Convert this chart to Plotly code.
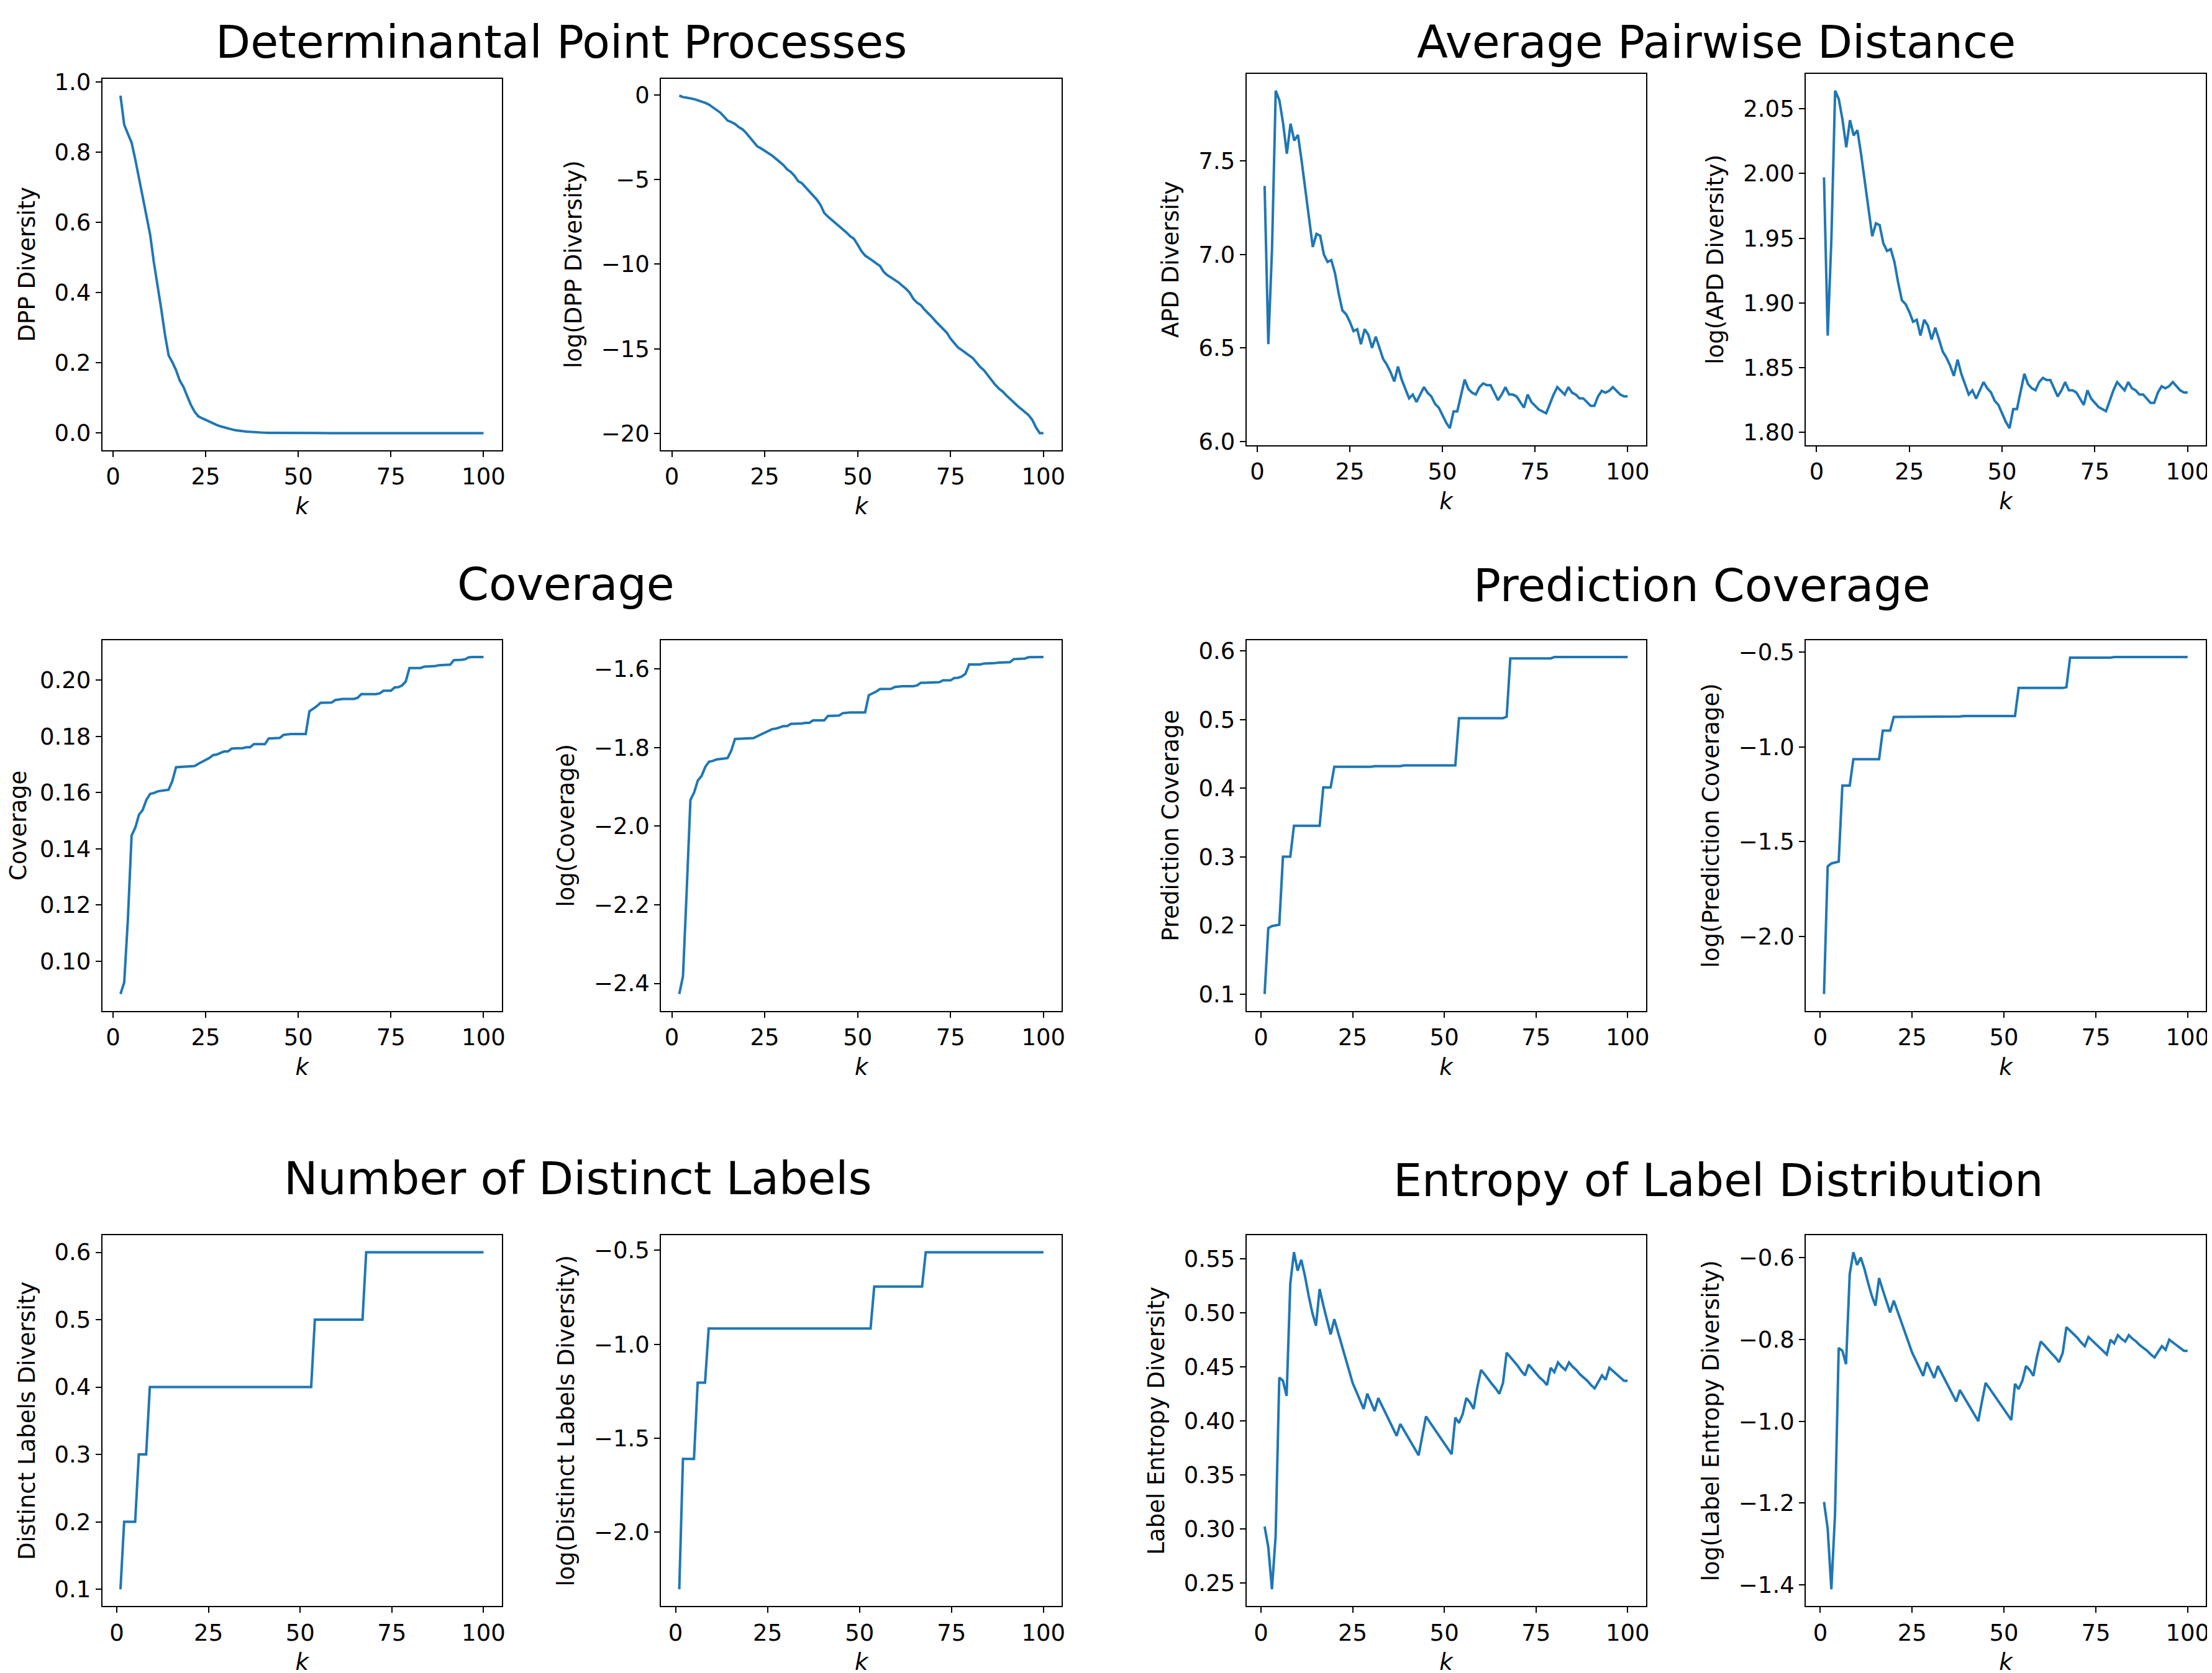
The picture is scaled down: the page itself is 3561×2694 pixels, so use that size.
import numpy as np
import plotly.graph_objects as go

# k values
k_from2 = list(range(2, 101))
k_from1 = list(range(1, 101))

# log(DPP diversity), k = 2..100
log_dpp = [
    -0.04, -0.13, -0.16, -0.19, -0.25, -0.32, -0.39, -0.47, -0.57, -0.72,
    -0.86, -1.04, -1.27, -1.51, -1.60, -1.72, -1.90, -2.03, -2.25, -2.52,
    -2.80, -3.04, -3.16, -3.29, -3.43, -3.59, -3.77, -3.95, -4.14, -4.39,
    -4.55, -4.78, -5.10, -5.22, -5.47, -5.72, -5.98, -6.18, -6.50, -6.97,
    -7.19, -7.38, -7.57, -7.75, -7.91, -8.13, -8.35, -8.50, -8.85, -9.22,
    -9.49, -9.62, -9.79, -9.95, -10.10, -10.45, -10.65, -10.79, -10.92, -11.08,
    -11.27, -11.45, -11.69, -12.05, -12.28, -12.42, -12.69, -12.90, -13.13, -13.38,
    -13.60, -13.83, -14.05, -14.40, -14.65, -14.92, -15.07, -15.25, -15.39, -15.55,
    -15.80, -16.08, -16.27, -16.55, -16.87, -17.12, -17.35, -17.52, -17.75, -17.98,
    -18.16, -18.37, -18.55, -18.72, -18.92, -19.20, -19.65, -19.98, -19.98,
]

# APD diversity, k = 2..100
apd = [
    7.367, 6.52, 7.03, 7.877, 7.825, 7.70, 7.54, 7.70, 7.61, 7.64,
    7.50, 7.35, 7.19, 7.04, 7.11, 7.10, 7.00, 6.96, 6.97, 6.90,
    6.79, 6.70, 6.68, 6.64, 6.59, 6.60, 6.52, 6.60, 6.57, 6.50,
    6.56, 6.50, 6.44, 6.41, 6.37, 6.32, 6.40, 6.33, 6.28, 6.23,
    6.25, 6.21, 6.25, 6.29, 6.26, 6.24, 6.20, 6.18, 6.14, 6.10,
    6.07, 6.16, 6.16, 6.24, 6.33, 6.28, 6.26, 6.25, 6.29, 6.31,
    6.30, 6.30, 6.26, 6.22, 6.25, 6.29, 6.25, 6.25, 6.24, 6.21,
    6.18, 6.25, 6.21, 6.19, 6.17, 6.16, 6.15, 6.20, 6.25, 6.29,
    6.27, 6.25, 6.29, 6.26, 6.25, 6.23, 6.23, 6.21, 6.19, 6.19,
    6.24, 6.27, 6.26, 6.27, 6.29, 6.27, 6.25, 6.24, 6.24,
]

# Coverage, k = 2..100
coverage = [
    0.0883, 0.0924, 0.1149, 0.1447, 0.1475, 0.1521, 0.1538, 0.1574, 0.1595, 0.1598,
    0.1604, 0.1607, 0.1608, 0.1610, 0.1641, 0.1690, 0.1691, 0.1692, 0.1693, 0.1694,
    0.1694, 0.1702, 0.1709, 0.1718, 0.1723, 0.1733, 0.1735, 0.1741, 0.1746, 0.1746,
    0.1756, 0.1757, 0.1757, 0.1758, 0.1761, 0.1761, 0.1772, 0.1772, 0.1772, 0.1772,
    0.1792, 0.1793, 0.1794, 0.1794, 0.1805, 0.1807, 0.1808, 0.1808, 0.1808, 0.1808,
    0.1808, 0.1889, 0.1897, 0.1907, 0.1919, 0.1920, 0.1920, 0.1920, 0.1929, 0.1932,
    0.1933, 0.1933, 0.1933, 0.1933, 0.1937, 0.1950, 0.1950, 0.1950, 0.1950, 0.1950,
    0.1953, 0.1962, 0.1962, 0.1962, 0.1974, 0.1975, 0.1981, 0.1995, 0.2043, 0.2043,
    0.2043, 0.2043, 0.2048, 0.2048, 0.2048, 0.2050, 0.2053, 0.2053, 0.2053, 0.2055,
    0.2071, 0.2071, 0.2072, 0.2074, 0.2081, 0.2082, 0.2082, 0.2082, 0.2082,
]

# Prediction coverage, k = 1..100
pred_coverage = [
    0.100, 0.196, 0.199, 0.200, 0.201, 0.300, 0.300, 0.300, 0.345, 0.345,
    0.345, 0.345, 0.345, 0.345, 0.345, 0.345, 0.401, 0.401, 0.401, 0.431,
    0.431, 0.431, 0.431, 0.431, 0.431, 0.431, 0.431, 0.431, 0.431, 0.431,
    0.432, 0.432, 0.432, 0.432, 0.432, 0.432, 0.432, 0.432, 0.433, 0.433,
    0.433, 0.433, 0.433, 0.433, 0.433, 0.433, 0.433, 0.433, 0.433, 0.433,
    0.433, 0.433, 0.433, 0.502, 0.502, 0.502, 0.502, 0.502, 0.502, 0.502,
    0.502, 0.502, 0.502, 0.502, 0.502, 0.502, 0.504, 0.589, 0.589, 0.589,
    0.589, 0.589, 0.589, 0.589, 0.589, 0.589, 0.589, 0.589, 0.589, 0.591,
    0.591, 0.591, 0.591, 0.591, 0.591, 0.591, 0.591, 0.591, 0.591, 0.591,
    0.591, 0.591, 0.591, 0.591, 0.591, 0.591, 0.591, 0.591, 0.591, 0.591,
]

# Distinct labels diversity, k = 1..100
distinct_labels = [
    0.1, 0.2, 0.2, 0.2, 0.2, 0.3, 0.3, 0.3, 0.4, 0.4,
    0.4, 0.4, 0.4, 0.4, 0.4, 0.4, 0.4, 0.4, 0.4, 0.4,
    0.4, 0.4, 0.4, 0.4, 0.4, 0.4, 0.4, 0.4, 0.4, 0.4,
    0.4, 0.4, 0.4, 0.4, 0.4, 0.4, 0.4, 0.4, 0.4, 0.4,
    0.4, 0.4, 0.4, 0.4, 0.4, 0.4, 0.4, 0.4, 0.4, 0.4,
    0.4, 0.4, 0.4, 0.5, 0.5, 0.5, 0.5, 0.5, 0.5, 0.5,
    0.5, 0.5, 0.5, 0.5, 0.5, 0.5, 0.5, 0.6, 0.6, 0.6,
    0.6, 0.6, 0.6, 0.6, 0.6, 0.6, 0.6, 0.6, 0.6, 0.6,
    0.6, 0.6, 0.6, 0.6, 0.6, 0.6, 0.6, 0.6, 0.6, 0.6,
    0.6, 0.6, 0.6, 0.6, 0.6, 0.6, 0.6, 0.6, 0.6, 0.6,
]

# Label entropy diversity, k = 1..100
label_entropy = [
    0.302, 0.283, 0.244, 0.293, 0.440, 0.437, 0.423, 0.527, 0.556, 0.539,
    0.549, 0.534, 0.516, 0.500, 0.488, 0.522, 0.507, 0.494, 0.480, 0.494,
    0.482, 0.470, 0.458, 0.446, 0.435, 0.427, 0.419, 0.411, 0.425, 0.417,
    0.409, 0.421, 0.414, 0.407, 0.400, 0.393, 0.386, 0.397, 0.391, 0.385,
    0.379, 0.374, 0.368, 0.386, 0.404, 0.399, 0.394, 0.389, 0.384, 0.379,
    0.374, 0.369, 0.403, 0.398, 0.406, 0.421, 0.417, 0.411, 0.431, 0.447,
    0.443, 0.438, 0.434, 0.430, 0.425, 0.435, 0.463, 0.459, 0.455, 0.451,
    0.446, 0.442, 0.452, 0.448, 0.444, 0.440, 0.437, 0.433, 0.449, 0.445,
    0.454, 0.450, 0.447, 0.454, 0.450, 0.447, 0.443, 0.440, 0.437, 0.433,
    0.430, 0.436, 0.442, 0.438, 0.449, 0.446, 0.443, 0.440, 0.437, 0.437,
]

titles = [
    'Determinantal Point Processes', 'Average Pairwise Distance',
    'Coverage', 'Prediction Coverage',
    'Number of Distinct Labels', 'Entropy of Label Distribution',
]

x_ticks = [0, 25, 50, 75, 100]

def fmt(vals, nd):
    return [f'{v:.{nd}f}'.replace('-', '\u2212') for v in vals]

# (x, y, y label, y tick values, decimals)
panels = [
    (k_from2, np.exp(log_dpp), 'DPP Diversity', [0.0, 0.2, 0.4, 0.6, 0.8, 1.0], 1),
    (k_from2, log_dpp, 'log(DPP Diversity)', [0, -5, -10, -15, -20], 0),
    (k_from2, apd, 'APD Diversity', [6.0, 6.5, 7.0, 7.5], 1),
    (k_from2, np.log(apd), 'log(APD Diversity)', [1.80, 1.85, 1.90, 1.95, 2.00, 2.05], 2),
    (k_from2, coverage, 'Coverage', [0.10, 0.12, 0.14, 0.16, 0.18, 0.20], 2),
    (k_from2, np.log(coverage), 'log(Coverage)', [-2.4, -2.2, -2.0, -1.8, -1.6], 1),
    (k_from1, pred_coverage, 'Prediction Coverage', [0.1, 0.2, 0.3, 0.4, 0.5, 0.6], 1),
    (k_from1, np.log(pred_coverage), 'log(Prediction Coverage)', [-2.0, -1.5, -1.0, -0.5], 1),
    (k_from1, distinct_labels, 'Distinct Labels Diversity', [0.1, 0.2, 0.3, 0.4, 0.5, 0.6], 1),
    (k_from1, np.log(distinct_labels), 'log(Distinct Labels Diversity)', [-2.0, -1.5, -1.0, -0.5], 1),
    (k_from1, label_entropy, 'Label Entropy Diversity', [0.25, 0.30, 0.35, 0.40, 0.45, 0.50, 0.55], 2),
    (k_from1, np.log(label_entropy), 'log(Label Entropy Diversity)', [-1.4, -1.2, -1.0, -0.8, -0.6], 1),
]

W, H = 3561, 2694
col_px = [(157, 801), (1058, 1704), (2002, 2646), (2904, 3549)]
row_px = [[(104, 709), (104, 709), (96, 701), (96, 701)],
          [(1019, 1623), (1019, 1623), (1019, 1623), (1019, 1623)],
          [(1989, 2593), (1989, 2593), (1989, 2593), (1989, 2593)]]
# title centre x (px) and y (px, None = pinned to the top edge)
title_pos = [(897, None), (2760, None), (905, 928), (2737, 930), (924, 1896), (2763, 1899)]

FONT = 'DejaVu Sans'
BLUE = '#1f77b4'

def pad(lo, hi):
    d = (hi - lo) * 0.05
    return [lo - d, hi + d]

fig = go.Figure()
layout = {}
for i, (x, y, ylab, yt, nd) in enumerate(panels):
    n = i + 1
    r, c = divmod(i, 4)
    sfx = '' if n == 1 else str(n)
    fig.add_trace(go.Scatter(x=x, y=list(y), mode='lines',
                             line=dict(color=BLUE, width=4),
                             xaxis='x' + sfx, yaxis='y' + sfx, showlegend=False))
    x0, x1 = col_px[c]
    t, b = row_px[r][c]
    common = dict(showgrid=False, zeroline=False, showline=True, mirror=True,
                  linecolor='black', linewidth=2, ticks='outside', ticklen=9,
                  tickwidth=2, tickcolor='black',
                  tickfont=dict(family=FONT, size=37, color='black'))
    layout['xaxis' + sfx] = dict(
        domain=[x0 / W, x1 / W], anchor='y' + sfx,
        range=pad(min(x), max(x)), tickvals=x_ticks,
        ticktext=[str(v) for v in x_ticks],
        title=dict(text='<i>k</i>', font=dict(family=FONT, size=37, color='black'), standoff=14),
        **common)
    layout['yaxis' + sfx] = dict(
        domain=[1 - b / H, 1 - t / H], anchor='x' + sfx,
        range=pad(float(np.min(y)), float(np.max(y))), tickvals=yt,
        ticktext=fmt(yt, nd),
        title=dict(text=ylab, font=dict(family=FONT, size=37, color='black'), standoff=20),
        **common)

annotations = []
for text, (cx, cy) in zip(titles, title_pos):
    if cy is None:
        yy, anchor = 1.0, 'top'
    else:
        yy, anchor = 1 - cy / H, 'middle'
    annotations.append(dict(text=text, x=cx / W, y=yy, xref='paper', yref='paper',
                            xanchor='center', yanchor=anchor, showarrow=False,
                            borderpad=0,
                            font=dict(family=FONT, size=73, color='black')))

fig.update_layout(
    width=W, height=H,
    margin=dict(l=0, r=0, t=0, b=0),
    paper_bgcolor='white', plot_bgcolor='white',
    font=dict(family=FONT, color='black'),
    annotations=annotations,
    **layout
)

fig.write_html('out.html')
